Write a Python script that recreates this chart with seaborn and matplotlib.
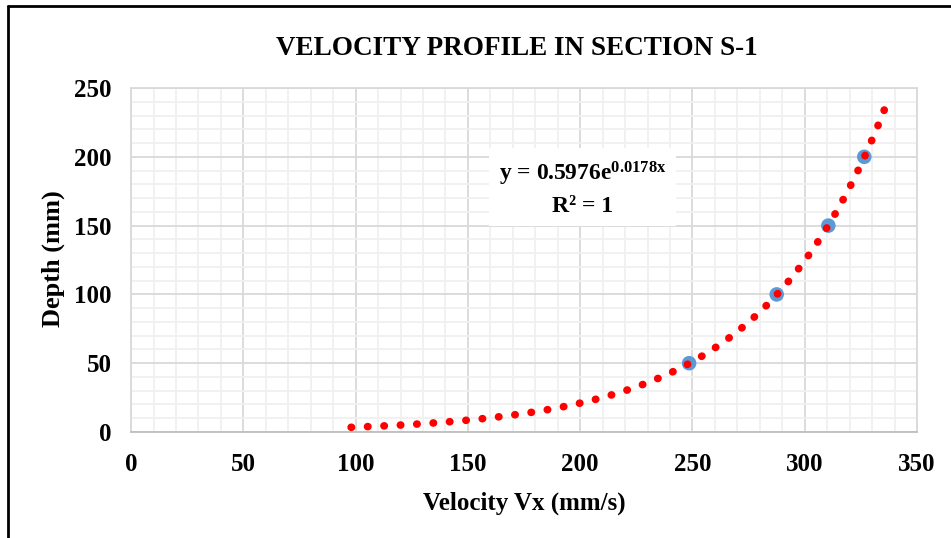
import numpy as np
import pandas as pd
import matplotlib.pyplot as plt
import seaborn as sns
from matplotlib.ticker import MultipleLocator

sns.set_style("white")
plt.rcParams['font.family'] = ['Liberation Serif', 'DejaVu Serif']
plt.rcParams['font.weight'] = 'bold'
plt.rcParams['mathtext.fontset'] = 'custom'
plt.rcParams['mathtext.rm'] = 'Liberation Serif'
plt.rcParams['mathtext.bf'] = 'Liberation Serif:bold'
plt.rcParams['mathtext.it'] = 'Liberation Serif:italic'
for key in ['text.color', 'axes.labelcolor', 'xtick.color', 'ytick.color']:
    plt.rcParams[key] = 'black'

# measured points
velocity = [248.5, 287.5, 310.5, 326.5]
depth = [50, 100, 150, 200]

# exponential trendline shown on the chart
coef_a = 0.5976
coef_b = 0.0178
trend_x_start = 98
trend_x_end = 336

trend_x = np.linspace(trend_x_start, trend_x_end, 300)
trend = pd.DataFrame({"x": trend_x, "y": coef_a * np.exp(coef_b * trend_x)})
points = pd.DataFrame({"Velocity": velocity, "Depth": depth})

fig = plt.figure(figsize=(9.51, 5.38), dpi=100)
ax = fig.add_axes([0.1378, 0.197, 0.8265, 0.6394])

sns.scatterplot(data=points, x="Velocity", y="Depth", ax=ax, s=110,
                color="#5b9bd5", edgecolor="none", zorder=3)
sns.lineplot(data=trend, x="x", y="y", ax=ax, color="#ff0000", lw=5.5,
             linestyle=(0, (0.05, 2.1)), solid_capstyle="round",
             dash_capstyle="round", zorder=4)

ax.set_xlim(0, 350)
ax.set_ylim(0, 250)
ax.xaxis.set_major_locator(MultipleLocator(50))
ax.yaxis.set_major_locator(MultipleLocator(50))
ax.xaxis.set_minor_locator(MultipleLocator(10))
ax.yaxis.set_minor_locator(MultipleLocator(10))
ax.grid(which="major", color="#d9d9d9", lw=1.3)
ax.grid(which="minor", color="#f0f0f0", lw=1.3)
ax.set_axisbelow(True)
for s in ax.spines.values():
    s.set_color("#d9d9d9")
    s.set_linewidth(1.3)
ax.spines["bottom"].set_color("#bfbfbf")
ax.tick_params(which="both", length=0, labelsize=18, colors="black")
ax.tick_params(axis="x", pad=15)
ax.tick_params(axis="y", pad=14)
for lab in ax.get_xticklabels() + ax.get_yticklabels():
    lab.set_fontweight("bold")

ax.set_xlabel("Velocity Vx (mm/s)", fontsize=18, fontweight="bold", labelpad=11)
ax.set_ylabel("Depth (mm)", fontsize=19, fontweight="bold")
ax.yaxis.set_label_coords(-0.084, 0.505)
fig.text(0.5436, 0.91, "VELOCITY PROFILE IN SECTION S-1", ha="center", va="center",
         fontsize=19.5, fontweight="bold")

ax.text(201, 177, "y = 0.5976e$^{\\mathbf{0.0178x}}$\nR² = 1", ha="center", va="center",
        fontsize=17, fontweight="bold", linespacing=1.45,
        bbox=dict(facecolor="white", edgecolor="none", pad=7), zorder=5)

# screenshot frame lines
fig.add_artist(plt.Line2D([0.0084, 0.0084], [0, 0.989], transform=fig.transFigure, color="black", lw=2))
fig.add_artist(plt.Line2D([0.0084, 1], [0.989, 0.989], transform=fig.transFigure, color="black", lw=2))

fig.savefig("out.png", dpi=100)
